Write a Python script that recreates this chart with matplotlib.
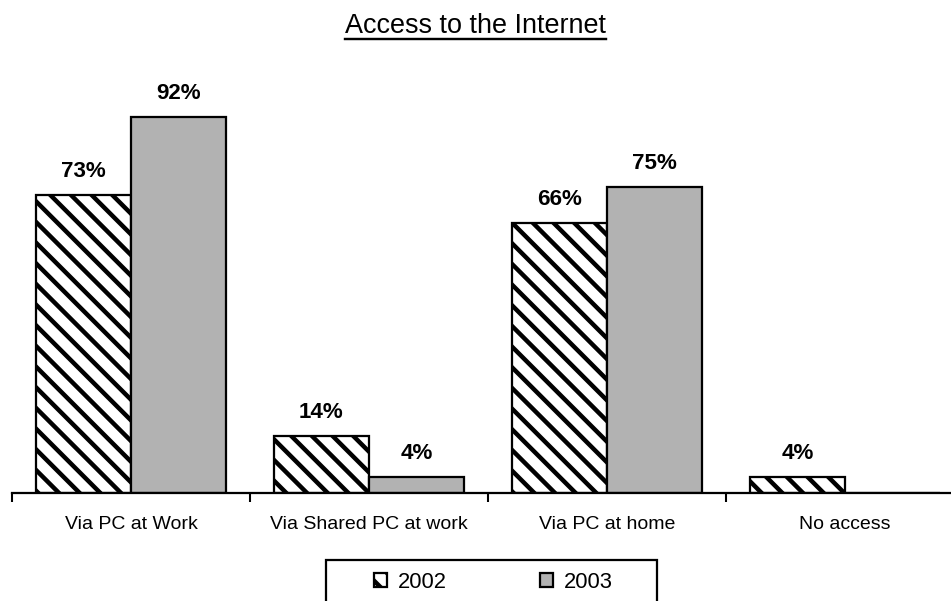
import numpy as np
from matplotlib import pyplot as plt
from matplotlib.lines import Line2D
from matplotlib.patches import Rectangle

CATEGORIES = ['Via PC at Work', 'Via Shared PC at work', 'Via PC at home', 'No access']
VALUES_2002 = [73, 14, 66, 4]
VALUES_2003 = [92, 4, 75, 0]
SERIES_NAMES = ['2002', '2003']
TITLE = 'Access to the Internet'

DPI = 124
WIDTH_PX, HEIGHT_PX = 951, 601
BAR_WIDTH = 0.4
GREY = '#b2b2b2'

plt.rcParams['font.family'] = ['Liberation Sans', 'DejaVu Sans']
plt.rcParams['hatch.linewidth'] = 2.6
plt.rcParams['hatch.color'] = '#222222'

fig = plt.figure(figsize=(WIDTH_PX / DPI, HEIGHT_PX / DPI), dpi=DPI)
# axis runs from x=12px to past the right edge, baseline at y=493px
ax = fig.add_axes([12 / WIDTH_PX, 108 / HEIGHT_PX, 952 / WIDTH_PX, 433 / HEIGHT_PX])

x = np.arange(len(CATEGORIES)) + 0.5
bars_2002 = ax.bar(x - BAR_WIDTH / 2, VALUES_2002, BAR_WIDTH, color='white', edgecolor='black',
                   hatch='\\\\', linewidth=1.3, label=SERIES_NAMES[0])
bars_2003 = ax.bar(x + BAR_WIDTH / 2, VALUES_2003, BAR_WIDTH, color=GREY, edgecolor='black',
                   linewidth=1.3, label=SERIES_NAMES[1])

for bars, values in ((bars_2002, VALUES_2002), (bars_2003, VALUES_2003)):
    for bar, val in zip(bars, values):
        if val == 0:
            continue
        ax.annotate(f'{val}%', (bar.get_x() + bar.get_width() / 2, val), xytext=(0, 10.5),
                    textcoords='offset points', ha='center', va='baseline',
                    fontsize=13, fontweight='bold')

ax.set_xlim(0, len(CATEGORIES))
ax.set_ylim(0, 106)
ax.set_xticks(x)
ax.set_xticklabels(CATEGORIES, fontsize=11.3)
ax.set_xticks(np.arange(len(CATEGORIES) + 1), minor=True)
ax.tick_params(axis='x', which='major', length=0, pad=13.4)
ax.tick_params(axis='x', which='minor', length=5.2, width=1.2, direction='out')
ax.set_yticks([])
for side in ('left', 'right', 'top'):
    ax.spines[side].set_visible(False)
ax.spines['bottom'].set_linewidth(1.3)

# title with underline
title = fig.text(0.5, 1 - 33 / HEIGHT_PX, TITLE, ha='center', va='baseline', fontsize=15.7)
fig.canvas.draw()
bb = title.get_window_extent().transformed(fig.transFigure.inverted())
fig.add_artist(Line2D([bb.x0, bb.x1], [1 - 39 / HEIGHT_PX] * 2, color='black', lw=1.4,
                      transform=fig.transFigure))

# legend box runs off the bottom of the picture
fig.add_artist(Rectangle((326 / WIDTH_PX, -0.2), 331 / WIDTH_PX, 0.2 + 41 / HEIGHT_PX, fill=False,
                         edgecolor='black', lw=1.3, transform=fig.transFigure))
fig.legend(loc='center left', bbox_to_anchor=(374 / WIDTH_PX, 1 - 582 / HEIGHT_PX), ncol=2,
           frameon=False, fontsize=12.8, handlelength=0.6, handleheight=0.6, handletextpad=0.5,
           columnspacing=4.2, borderpad=0, borderaxespad=0)

fig.savefig('out.png', dpi=DPI)
